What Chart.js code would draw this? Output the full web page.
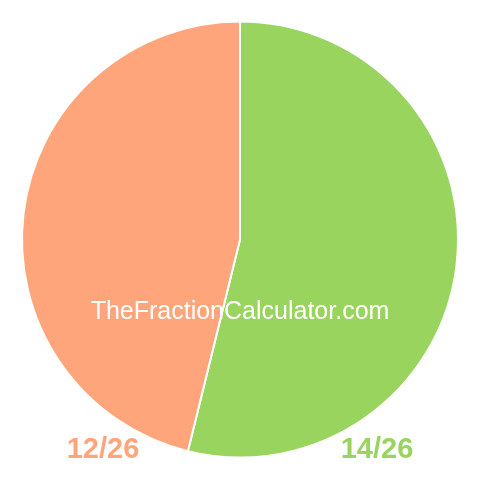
<!DOCTYPE html>
<html>
<head>
<meta charset="utf-8">
<script src="https://cdn.jsdelivr.net/npm/chart.js@4"></script>
<style>
  html, body { margin: 0; padding: 0; background: #fff; }
  #wrap { width: 480px; height: 480px; }
</style>
</head>
<body>
<div id="wrap"><canvas id="pie"></canvas></div>
<script>
// Datos de la fracción
const labels = ["14/26", "12/26"];
const values = [14, 12];
const colors = ["#99d45f", "#ffa57b"];

// Textos fijos: etiquetas de abajo y marca de agua
const textos = {
    id: "textos",
    afterDraw(chart) {
        const ctx = chart.ctx;
        const area = chart.chartArea;
        const cx = (area.left + area.right) / 2;
        ctx.save();
        ctx.textAlign = "center";
        ctx.textBaseline = "middle";

        ctx.font = "25px 'Liberation Sans', Arial, sans-serif";
        ctx.fillStyle = "#ffffff";
        ctx.fillText("TheFractionCalculator.com", cx, 312);

        ctx.font = "bold 29px 'Liberation Sans', Arial, sans-serif";
        ctx.fillStyle = colors[1];
        ctx.fillText(labels[1], 103, 450);
        ctx.fillStyle = colors[0];
        ctx.fillText(labels[0], 377, 450);
        ctx.restore();
    },
};

document.addEventListener("DOMContentLoaded", () => {
    const ctx = document.getElementById("pie").getContext("2d");

    new Chart(ctx, {
        type: "pie",
        data: {
            labels: labels,
            datasets: [
                {
                    data: values,
                    backgroundColor: colors,
                    borderColor: "#ffffff",
                    borderWidth: 2,
                },
            ],
        },
        options: {
            responsive: true,
            maintainAspectRatio: false,
            animation: false,
            layout: { padding: { top: 20, bottom: 21, left: 21, right: 21 } },
            plugins: {
                legend: { display: false },
                tooltip: { enabled: false },
            },
        },
        plugins: [textos],
    });
});
</script>
</body>
</html>
